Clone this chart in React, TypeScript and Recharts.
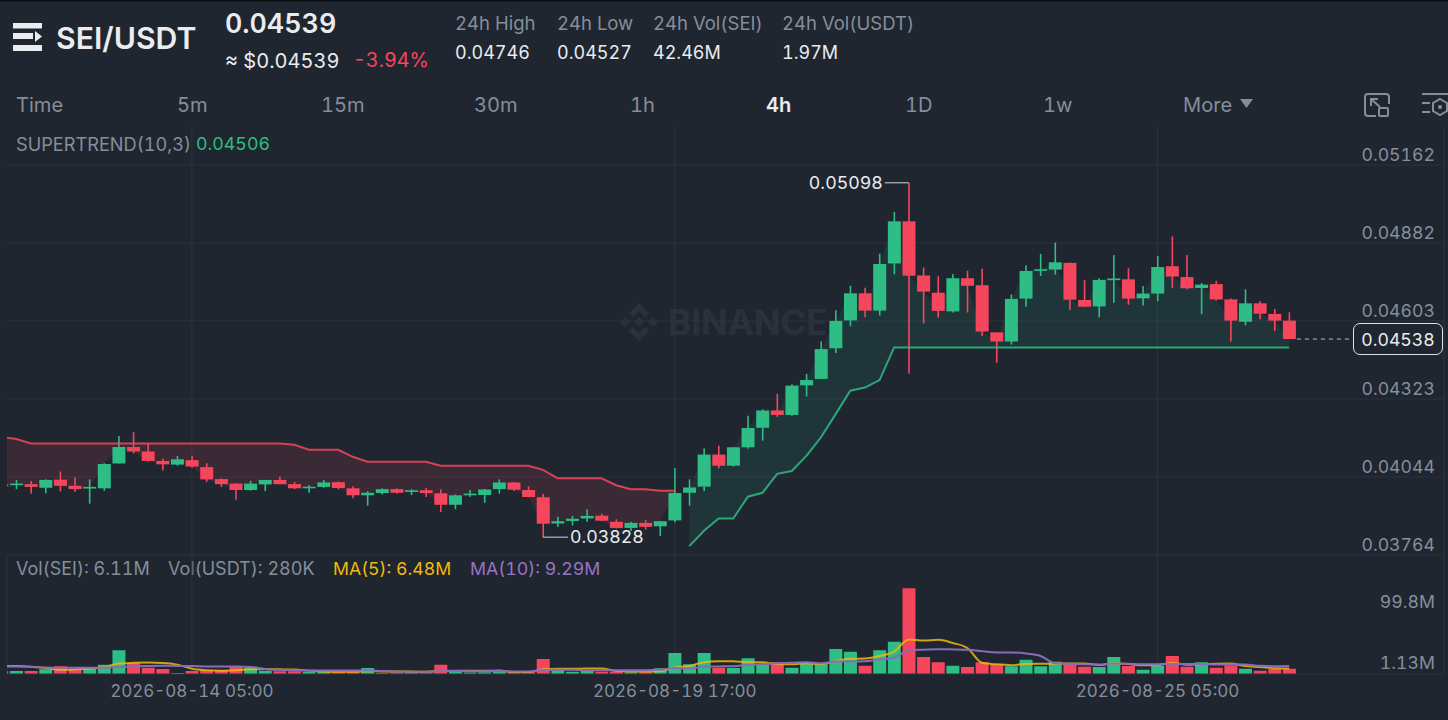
import { Area, Bar, CartesianGrid, Cell, ComposedChart, Line, ReferenceDot, ReferenceLine, XAxis, YAxis } from 'recharts';

const BG = '#1f2630';
const GRID = '#2c333e';
const GREEN = '#2ebd85';
const RED = '#f6465d';
const MUTED = '#858e9b';
const WHITE = '#eaecef';
const FONT = 'Inter, sans-serif';

const opens = [0.04017,0.04014,0.04018,0.04005,0.04034,0.04012,0.04002,0.04003,0.04092,0.04151,0.04135,0.04101,0.04088,0.04104,0.04079,0.04036,0.04020,0.03997,0.04017,0.04033,0.04018,0.04003,0.04008,0.04025,0.04003,0.03978,0.03986,0.04000,0.03990,0.03996,0.03985,0.03944,0.03978,0.03979,0.04000,0.04024,0.03997,0.03971,0.03877,0.03886,0.03895,0.03905,0.03883,0.03861,0.03879,0.03867,0.03888,0.03987,0.04009,0.04124,0.04084,0.04150,0.04220,0.04282,0.04266,0.04372,0.04395,0.04505,0.04605,0.04702,0.04640,0.04809,0.04960,0.04766,0.04704,0.04637,0.04756,0.04731,0.04562,0.04529,0.04683,0.04782,0.04787,0.04811,0.04678,0.04655,0.04749,0.04752,0.04684,0.04701,0.04799,0.04760,0.04721,0.04735,0.04680,0.04600,0.04666,0.04628,0.04604];
const highs = [0.04021,0.04033,0.04029,0.04035,0.04063,0.04042,0.04035,0.04093,0.04190,0.04204,0.04164,0.04110,0.04119,0.04120,0.04093,0.04038,0.04021,0.04030,0.04033,0.04045,0.04026,0.04015,0.04033,0.04027,0.04010,0.03993,0.04003,0.04003,0.04000,0.04004,0.03999,0.03981,0.03997,0.04000,0.04035,0.04026,0.04010,0.03983,0.03901,0.03904,0.03928,0.03912,0.03892,0.03883,0.03889,0.03885,0.04075,0.04035,0.04146,0.04156,0.04151,0.04263,0.04286,0.04342,0.04376,0.04413,0.04530,0.04641,0.04729,0.04722,0.04844,0.04994,0.05098,0.04794,0.04763,0.04771,0.04783,0.04790,0.04562,0.04698,0.04802,0.04843,0.04884,0.04812,0.04749,0.04756,0.04839,0.04792,0.04728,0.04836,0.04906,0.04839,0.04739,0.04747,0.04684,0.04716,0.04674,0.04646,0.04634];
const lows = [0.04006,0.04000,0.03984,0.03985,0.03992,0.03990,0.03948,0.03994,0.04092,0.04128,0.04098,0.04067,0.04084,0.04077,0.04026,0.04008,0.03962,0.03995,0.03993,0.04017,0.04000,0.03987,0.04005,0.03999,0.03967,0.03941,0.03981,0.03984,0.03979,0.03972,0.03918,0.03928,0.03972,0.03951,0.03984,0.03993,0.03971,0.03828,0.03865,0.03870,0.03883,0.03885,0.03859,0.03850,0.03855,0.03832,0.03881,0.03941,0.03993,0.04075,0.04081,0.04145,0.04174,0.04259,0.04263,0.04332,0.04394,0.04488,0.04584,0.04616,0.04622,0.04770,0.04414,0.04594,0.04615,0.04633,0.04633,0.04549,0.04453,0.04518,0.04654,0.04764,0.04769,0.04642,0.04653,0.04616,0.04668,0.04661,0.04658,0.04674,0.04721,0.04716,0.04627,0.04676,0.04529,0.04587,0.04609,0.04567,0.04538];
const closes = [0.04010,0.04020,0.04008,0.04033,0.04012,0.04000,0.04008,0.04090,0.04151,0.04135,0.04101,0.04089,0.04107,0.04081,0.04035,0.04018,0.03997,0.04020,0.04033,0.04018,0.04003,0.04009,0.04024,0.04004,0.03978,0.03987,0.04000,0.03987,0.03996,0.03986,0.03944,0.03978,0.03984,0.03999,0.04024,0.03998,0.03972,0.03876,0.03885,0.03894,0.03904,0.03887,0.03861,0.03879,0.03865,0.03885,0.03986,0.04006,0.04124,0.04084,0.04150,0.04219,0.04282,0.04266,0.04371,0.04391,0.04502,0.04603,0.04702,0.04640,0.04807,0.04960,0.04765,0.04708,0.04639,0.04756,0.04729,0.04565,0.04529,0.04682,0.04782,0.04788,0.04813,0.04679,0.04654,0.04750,0.04755,0.04683,0.04701,0.04796,0.04762,0.04720,0.04733,0.04680,0.04604,0.04666,0.04629,0.04604,0.04538];

const superRed = [0.04187,0.04180,0.04164,0.04164,0.04164,0.04164,0.04164,0.04164,0.04164,0.04164,0.04164,0.04164,0.04164,0.04164,0.04164,0.04164,0.04164,0.04164,0.04164,0.04164,0.04159,0.04141,0.04141,0.04141,0.04116,0.04098,0.04098,0.04098,0.04098,0.04098,0.04084,0.04084,0.04084,0.04084,0.04084,0.04084,0.04084,0.04069,0.04039,0.04039,0.04039,0.04039,0.04014,0.04000,0.04000,0.03994,0.03994];
const superGreen = [0.03796,0.03851,0.03895,0.03895,0.03973,0.03987,0.04055,0.04065,0.04119,0.04186,0.04269,0.04353,0.04364,0.04391,0.04508,0.04508,0.04508,0.04508,0.04508,0.04508,0.04508,0.04508,0.04508,0.04508,0.04508,0.04508,0.04508,0.04508,0.04508,0.04508,0.04508,0.04508,0.04508,0.04508,0.04508,0.04508,0.04508,0.04508,0.04508,0.04508,0.04508,0.04508];

// volumes in millions
const volumes = [3.1,3.5,3.5,5.4,8.9,5.8,7.8,10.9,27.5,12.8,7.4,5.8,1.13,3.5,4.3,4.7,8.5,7,3.9,3.1,3.1,2.3,2.3,2.3,2.3,7,1.3,1.6,1.9,1.9,10.9,2.3,1.6,1.9,3.1,2.3,2.7,17.4,5,2.7,4.3,2.7,2.7,1.9,2.3,6.6,24.4,11.2,24.4,7.4,7,18.2,10.9,13.6,7.4,12.8,12.8,29.1,26,9.7,27.5,37.6,99.8,19.8,13.6,9.7,8.1,13.6,11.2,8.9,16.7,8.9,14.3,12,8.5,8.1,19.8,9.3,5,9.7,20.9,8.5,13.6,7.4,10.1,6.2,3.9,5.8,6.11];
const ma5 = [9.3,9.2,8.5,7,4.9,5.4,6.3,7.8,12.2,13,13.3,12.9,10.9,6.1,4.4,3.9,4.4,5.5,5.7,5.4,5.1,3.9,2.9,2.6,2.5,3.2,3,2.9,2.8,2.7,3.5,3.7,3.7,3.7,4,2.2,2.3,5.5,6.1,6,6.4,6.4,3.5,2.9,2.8,3.2,7.6,9.3,13.8,14.8,14.9,13.6,13.6,11.4,11.4,12.6,11.5,15.1,17.6,18.1,21,26,40.1,38.9,39.7,36.1,30.2,13,11.2,10.3,11.7,11.9,12,12.2,12.1,10.4,12.5,11.5,10.1,10.4,12.9,10.7,11.5,12,12.1,9.2,8.2,6.7,6.48];
const ma10 = [8.9,8.7,8.2,7.6,7.4,7.4,7.3,7.4,8,9,9.4,9.6,9.4,9.2,8.7,8.6,8.7,8.2,5.9,4.9,4.5,4.2,4.2,4.2,4,4.2,3.5,2.9,2.7,2.6,3.4,3.4,3.3,3.3,3.4,2.9,3,4.6,4.9,5,4.3,4.4,4.5,4.5,4.4,4.8,7,6.4,8.4,8.8,9.1,10.6,11.5,12.6,13.1,13.8,12.6,14.4,14.5,14.8,16.8,18.8,27.6,28.3,28.9,28.6,28.1,26.6,25,25,23.9,21,12.5,11.7,11.2,11,12.2,11.8,11.2,11.3,11.7,11.6,11.5,11,11.3,11,9.5,9.1,9.29];

const priceTicks = [0.05162, 0.04882, 0.04603, 0.04323, 0.04044, 0.03764];
const volumeTicks = [99.8, 1.13];
const timeTicks = [13, 46, 79];
const timeLabels = ['2026-08-14 05:00', '2026-08-19 17:00', '2026-08-25 05:00'];
const timeframes = [['Time', 16], ['5m', 177], ['15m', 321], ['30m', 474], ['1h', 630], ['4h', 766], ['1D', 905], ['1w', 1043], ['More', 1183]];
const stats = [['24h High', '0.04746', 455], ['24h Low', '0.04527', 557], ['24h Vol(SEI)', '42.46M', 653], ['24h Vol(USDT)', '1.97M', 782]];

const X_DOMAIN = [0.362, 98.58];
const GREEN_START = 47;

const rows = opens.map((open, i) => {
  const red = superRed[i] ?? null;
  const green = i >= GREEN_START ? superGreen[i - GREEN_START] : null;
  return {
    i,
    open,
    close: closes[i],
    range: [lows[i], highs[i]],
    red,
    green,
    redBand: red === null ? null : [closes[i], red],
    greenBand: green === null ? null : [green, closes[i]],
    volume: volumes[i],
    ma5: ma5[i],
    ma10: ma10[i],
  };
});

function Candle({ x, y, width, height, payload }: any) {
  const [low, high] = payload.range;
  const perUnit = height / (high - low);
  const top = y + (high - Math.max(payload.open, payload.close)) * perUnit;
  const bottom = y + (high - Math.min(payload.open, payload.close)) * perUnit;
  const color = payload.close >= payload.open ? GREEN : RED;
  return (
    <g>
      <rect x={x + width / 2 - 0.8} y={y} width={1.6} height={height} fill={color} />
      <rect x={x} y={top} width={width} height={Math.max(bottom - top, 1)} fill={color} />
    </g>
  );
}

function PriceTick({ y, payload }: any) {
  return <text x={1435} y={y - 9} textAnchor="end" dominantBaseline="middle" fill={MUTED} fontSize={17.7} fontFamily={FONT} style={{ fontVariantNumeric: 'tabular-nums' }}>{payload.value.toFixed(5)}</text>;
}

function VolumeTick({ y, payload }: any) {
  const dy = payload.value > 50 ? 15 : -9;
  return <text x={1435} y={y + dy} textAnchor="end" dominantBaseline="middle" fill={MUTED} fontSize={17.7} fontFamily={FONT} style={{ fontVariantNumeric: 'tabular-nums' }}>{payload.value}M</text>;
}

function TimeTick({ x, y, payload }: any) {
  return <text x={x} y={y} textAnchor="middle" dominantBaseline="middle" fill={MUTED} fontSize={17} fontFamily={FONT} style={{ fontVariantNumeric: 'tabular-nums' }}>{timeLabels[timeTicks.indexOf(payload.value)]}</text>;
}

function Txt({ x, y, color = MUTED, size = 18, weight = 400, children }: any) {
  return (
    <div style={{ position: 'absolute', left: x, top: y, transform: 'translateY(-50%)', color, fontSize: size, fontWeight: weight, fontFamily: FONT, fontVariantNumeric: 'tabular-nums', whiteSpace: 'nowrap', lineHeight: 1 }}>
      {children}
    </div>
  );
}

function Header() {
  return (
    <>
      <svg style={{ position: 'absolute', left: 0, top: 0 }} width={1448} height={128}>
        <rect x={0} y={0} width={1448} height={1.5} fill="#0b0e11" />
        <g fill={WHITE}>
          <rect x={13} y={23} width={29} height={5.5} />
          <rect x={13} y={33} width={20} height={6} />
          <polygon points="35,31 42,36.5 35,42" />
          <rect x={13} y={45} width={29} height={6} />
        </g>
        <polygon points="1240,99 1253,99 1246.5,108" fill={MUTED} />
        <g fill="none" stroke={MUTED} strokeWidth={2}>
          <path d="M1376,116 H1368 a3,3 0 0 1 -3,-3 V97 a3,3 0 0 1 3,-3 H1386 a3,3 0 0 1 3,3 V104" />
          <rect x={1379} y={108} width={9} height={8} rx={1} />
          <path d="M1371,99 L1380,107 M1371,106 V99 H1378" />
          <path d="M1422,94 H1448 M1422,103 H1430 M1422,112 H1430" />
          <polygon points="1440,99 1447,103 1447,111 1440,115 1433,111 1433,103" />
        </g>
        <circle cx={1440} cy={107} r={2} fill={MUTED} />
      </svg>
      <Txt x={56} y={38} color={WHITE} size={30.2} weight={600}>SEI/USDT</Txt>
      <Txt x={225} y={23} color={WHITE} size={26.8} weight={600}>0.04539</Txt>
      <Txt x={225} y={61} color={WHITE} size={20}>≈ $0.04539</Txt>
      <Txt x={353} y={61} color={RED} size={19.8}>-3.94%</Txt>
      {stats.map(([label, value, x]) => (
        <div key={label}>
          <Txt x={x} y={23} size={18.5}>{label}</Txt>
          <Txt x={x} y={53} color={WHITE} size={18}>{value}</Txt>
        </div>
      ))}
      {timeframes.map(([label, x]) => (
        <Txt key={label} x={x} y={105} size={20.1} color={label === '4h' ? WHITE : MUTED} weight={label === '4h' ? 600 : 400}>{label}</Txt>
      ))}
      <Txt x={16} y={144} size={18.2}>SUPERTREND(10,3)</Txt>
      <Txt x={196} y={144} size={17.8} color={GREEN}>0.04506</Txt>
      <Txt x={16} y={568.5} size={18}>Vol(SEI): 6.11M</Txt>
      <Txt x={168} y={568.5} size={18}>Vol(USDT): 280K</Txt>
      <Txt x={333} y={568.5} size={17.7} color="#f0b90b">MA(5): 6.48M</Txt>
      <Txt x={470} y={568.5} size={17.8} color="#9b72c4">MA(10): 9.29M</Txt>
    </>
  );
}

function Watermark() {
  return (
    <>
      <svg style={{ position: 'absolute', left: 618, top: 301 }} width={42} height={42} viewBox="0 0 42 42" fill="#2a313c">
        <polygon points="21,2 31,12 27,16 21,10 15,16 11,12" />
        <polygon points="21,40 31,30 27,26 21,32 15,26 11,30" />
        <polygon points="2,21 7,16 12,21 7,26" />
        <polygon points="40,21 35,16 30,21 35,26" />
        <polygon points="21,16 26,21 21,26 16,21" />
      </svg>
      <Txt x={668} y={322} size={35} weight={700} color="#2a313c">BINANCE</Txt>
    </>
  );
}

export default function App() {
  return (
    <div style={{ position: 'fixed', left: 0, top: 0, width: 1448, height: 720, background: BG, overflow: 'hidden' }}>
      <Header />
      <Watermark />
      <div style={{ position: 'absolute', left: 0, top: 127 }}>
        <ComposedChart width={1448} height={429} data={rows} margin={{ top: 0, right: 4, bottom: 1, left: 7 }}>
          <CartesianGrid stroke={GRID} horizontalValues={priceTicks} verticalValues={[X_DOMAIN[0], ...timeTicks, X_DOMAIN[1]]} />
          <XAxis dataKey="i" type="number" domain={X_DOMAIN} allowDataOverflow hide />
          <YAxis orientation="right" mirror width={1} domain={[0.03764, 0.05298]} allowDataOverflow ticks={priceTicks} interval={0} axisLine={false} tickLine={false} tick={<PriceTick />} />
          <Area dataKey="redBand" stroke="none" fill={RED} fillOpacity={0.12} isAnimationActive={false} connectNulls={false} dot={false} activeDot={false} />
          <Area dataKey="greenBand" stroke="none" fill={GREEN} fillOpacity={0.1} isAnimationActive={false} connectNulls={false} dot={false} activeDot={false} />
          <Line dataKey="red" stroke={RED} strokeOpacity={0.85} strokeWidth={2} dot={false} activeDot={false} isAnimationActive={false} />
          <Line dataKey="green" stroke={GREEN} strokeOpacity={0.85} strokeWidth={2} dot={false} activeDot={false} isAnimationActive={false} />
          <Bar dataKey="range" barSize={13} shape={<Candle />} isAnimationActive={false} />
          <ReferenceLine segment={[{ x: 88.53, y: 0.04538 }, { x: 92.3, y: 0.04538 }]} stroke="#b7bdc6" strokeDasharray="4 4" />
          <ReferenceLine segment={[{ x: 60.36, y: 0.05098 }, { x: 62, y: 0.05098 }]} stroke="#d5d8dc" />
          <ReferenceLine segment={[{ x: 37, y: 0.03828 }, { x: 38.7, y: 0.03828 }]} stroke="#d5d8dc" />
          <ReferenceDot x={60.36} y={0.05098} r={0} stroke="none" label={{ value: '0.05098', position: 'left', offset: 2, fill: WHITE, fontSize: 17.8, fontFamily: FONT, style: { fontVariantNumeric: 'tabular-nums' } }} />
          <ReferenceDot x={38.7} y={0.03828} r={0} stroke="none" label={{ value: '0.03828', position: 'right', offset: 2, fill: WHITE, fontSize: 17.8, fontFamily: FONT, style: { fontVariantNumeric: 'tabular-nums' } }} />
        </ComposedChart>
      </div>
      <div style={{ position: 'absolute', left: 1353, top: 323, width: 88, height: 30, border: '1px solid #dfe2e6', borderRadius: 7, background: BG, color: WHITE, fontFamily: FONT, fontVariantNumeric: 'tabular-nums', fontSize: 17.7, textAlign: 'center', lineHeight: '32px' }}>0.04538</div>
      <div style={{ position: 'absolute', left: 0, top: 555 }}>
        <ComposedChart width={1448} height={145} data={rows} margin={{ top: 0, right: 4, bottom: 0, left: 7 }}>
          <CartesianGrid stroke={GRID} horizontal={false} verticalValues={[X_DOMAIN[0], ...timeTicks, X_DOMAIN[1]]} />
          <XAxis dataKey="i" type="number" domain={X_DOMAIN} allowDataOverflow ticks={timeTicks} interval={0} height={26} stroke={GRID} tickLine={false} tickMargin={12} tick={<TimeTick />} />
          <YAxis orientation="right" mirror width={1} domain={[0, 138.4]} ticks={volumeTicks} interval={0} axisLine={false} tickLine={false} tick={<VolumeTick />} />
          <Bar dataKey="volume" barSize={13} isAnimationActive={false}>
            {rows.map((row) => <Cell key={row.i} fill={row.close >= row.open ? GREEN : RED} />)}
          </Bar>
          <Line dataKey="ma5" type="monotone" stroke="#f0b90b" strokeOpacity={0.85} strokeWidth={2} dot={false} activeDot={false} isAnimationActive={false} />
          <Line dataKey="ma10" type="monotone" stroke="#8a6bb8" strokeWidth={2} dot={false} activeDot={false} isAnimationActive={false} />
        </ComposedChart>
      </div>
    </div>
  );
}
